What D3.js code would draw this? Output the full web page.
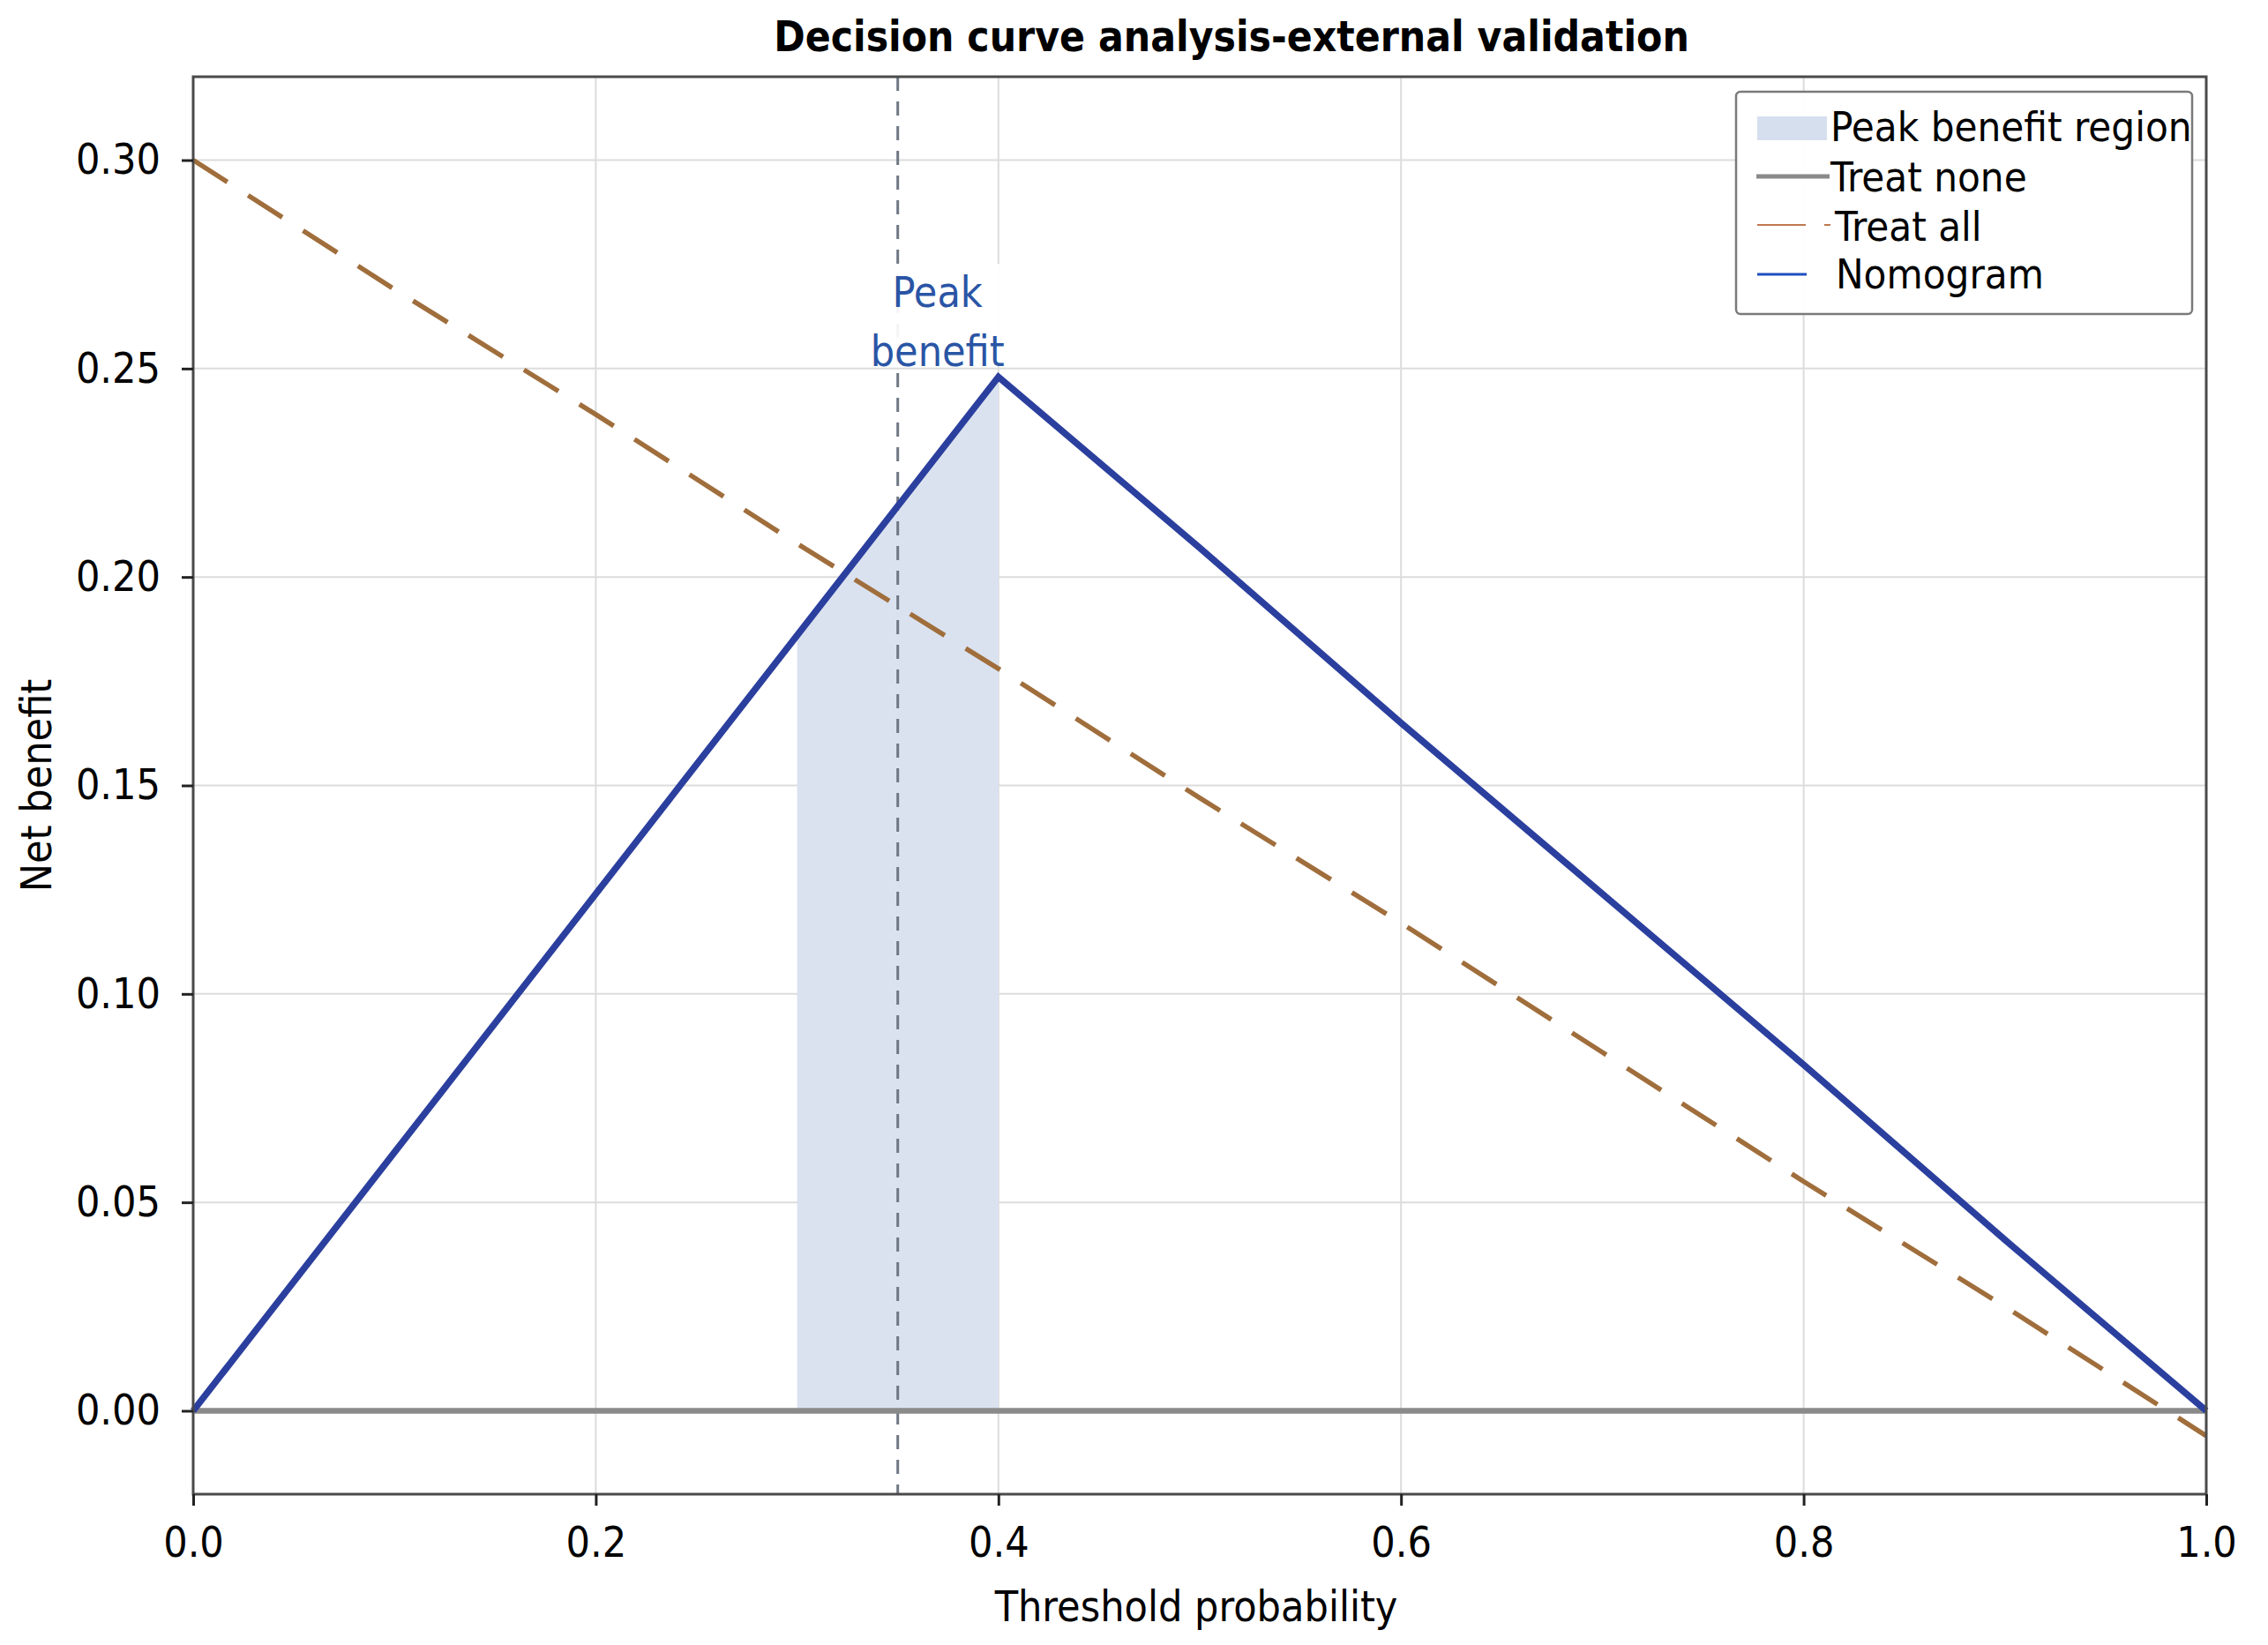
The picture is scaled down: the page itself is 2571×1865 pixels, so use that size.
<!DOCTYPE html>
<html>
<head>
<meta charset="utf-8">
<script src="https://cdn.jsdelivr.net/npm/d3@7/dist/d3.min.js"></script>
<style>
  html, body { margin: 0; padding: 0; background: #fff; }
  svg { display: block; }
  text { font-family: "DejaVu Sans Condensed", "DejaVu Sans", "Liberation Sans", sans-serif; font-stretch: condensed; }
</style>
</head>
<body>
<svg id="chart" width="2571" height="1865"></svg>
<script>
// ---- Data ----
const thresholds   = [0.0, 0.1, 0.2, 0.3, 0.4, 0.5, 0.6, 0.7, 0.8, 0.9, 1.0];
const nomogramNB   = [0.000, 0.062, 0.124, 0.186, 0.248, 0.207, 0.165, 0.124, 0.083, 0.041, 0.000];
const treatAllNB   = [0.300, 0.269, 0.239, 0.208, 0.178, 0.147, 0.117, 0.086, 0.055, 0.025, -0.006];
const treatNoneNB  = [0, 0, 0, 0, 0, 0, 0, 0, 0, 0, 0];
const peakRegion   = [0.30, 0.40];
const peakThreshold = 0.35;
const xTickValues  = [0.0, 0.2, 0.4, 0.6, 0.8, 1.0];
const yTickValues  = [0.00, 0.05, 0.10, 0.15, 0.20, 0.25, 0.30];
const legendLabels = ["Peak benefit region", "Treat none", "Treat all", "Nomogram"];
const titleText = "Decision curve analysis-external validation";

// ---- Layout ----
const W = 2571, H = 1865;
const margin = { top: 87, right: 70, bottom: 171, left: 219 };
const svg = d3.select("#chart");

const x = d3.scaleLinear().domain([0, 1]).range([margin.left, W - margin.right]);
const y = d3.scaleLinear().domain([-0.02, 0.32]).range([H - margin.bottom, margin.top]);

const pts = (arr) => thresholds.map((t, i) => [t, arr[i]]);

// gridlines
const grid = svg.append("g").attr("stroke", "#dcdcdc").attr("stroke-width", 2);
grid.selectAll("line.gx").data(xTickValues.filter(v => v > 0 && v < 1)).join("line")
  .attr("x1", d => x(d)).attr("x2", d => x(d))
  .attr("y1", y.range()[1]).attr("y2", y.range()[0]);
grid.selectAll("line.gy").data(yTickValues).join("line")
  .attr("y1", d => y(d)).attr("y2", d => y(d))
  .attr("x1", x.range()[0]).attr("x2", x.range()[1]);

// peak benefit region fill
const regionPts = pts(nomogramNB).filter(p => p[0] >= peakRegion[0] - 1e-9 && p[0] <= peakRegion[1] + 1e-9);
svg.append("path")
  .datum(regionPts)
  .attr("fill", "#dae2f0")
  .attr("d", d3.area().x(d => x(d[0])).y0(y(0)).y1(d => y(d[1])));

// vertical dashed line at peak threshold
svg.append("line")
  .attr("x1", x(peakThreshold)).attr("x2", x(peakThreshold))
  .attr("y1", y.range()[1]).attr("y2", y.range()[0])
  .attr("stroke", "#6f7784").attr("stroke-width", 3)
  .attr("stroke-dasharray", "16,12");

const line = d3.line().x(d => x(d[0])).y(d => y(d[1]));

// treat none
svg.append("path").datum(pts(treatNoneNB))
  .attr("fill", "none").attr("stroke", "#8a8a8a").attr("stroke-width", 6.5)
  .attr("d", line);

// treat all
svg.append("path").datum(pts(treatAllNB))
  .attr("fill", "none").attr("stroke", "#a06e3c").attr("stroke-width", 5.5)
  .attr("stroke-dasharray", "46,28")
  .attr("d", line);

// nomogram
svg.append("path").datum(pts(nomogramNB))
  .attr("fill", "none").attr("stroke", "#2b3f9e").attr("stroke-width", 7.5)
  .attr("stroke-linejoin", "miter")
  .attr("d", line);

// annotation
const peakIdx = nomogramNB.indexOf(d3.max(nomogramNB));
const annX = x(peakThreshold) + 45;
svg.append("rect")
  .attr("x", annX - 78).attr("y", y(nomogramNB[peakIdx]) - 128)
  .attr("width", 156).attr("height", 116)
  .attr("fill", "#fff").attr("opacity", 0.92);
const ann = svg.append("text")
  .attr("text-anchor", "middle").attr("fill", "#2a55a5")
  .style("font-size", "48px");
ann.append("tspan").attr("x", annX).attr("y", y(nomogramNB[peakIdx]) - 79).text("Peak");
ann.append("tspan").attr("x", annX).attr("y", y(nomogramNB[peakIdx]) - 12).text("benefit");

// frame
svg.append("rect")
  .attr("x", x.range()[0]).attr("y", y.range()[1])
  .attr("width", x.range()[1] - x.range()[0])
  .attr("height", y.range()[0] - y.range()[1])
  .attr("fill", "none").attr("stroke", "#4a4a4a").attr("stroke-width", 3);

// axes
const xAxis = svg.append("g")
  .attr("transform", `translate(0,${y.range()[0]})`)
  .call(d3.axisBottom(x).tickValues(xTickValues).tickFormat(d3.format(".1f")).tickSize(13).tickPadding(24));
const yAxis = svg.append("g")
  .attr("transform", `translate(${x.range()[0]},0)`)
  .call(d3.axisLeft(y).tickValues(yTickValues).tickFormat(d3.format(".2f")).tickSize(13).tickPadding(24));
[xAxis, yAxis].forEach(a => {
  a.select(".domain").remove();
  a.selectAll(".tick line").attr("stroke", "#222").attr("stroke-width", 3);
  a.selectAll(".tick text").attr("fill", "#000").style("font-size", "48px");
});

// title & axis labels
svg.append("text")
  .attr("x", 1396).attr("y", 58).attr("text-anchor", "middle")
  .style("font-size", "47.5px").style("font-weight", "bold").attr("fill", "#000")
  .text(titleText);
svg.append("text")
  .attr("x", (x.range()[0] + x.range()[1]) / 2 - 4).attr("y", 1838).attr("text-anchor", "middle")
  .style("font-size", "48px").attr("fill", "#000")
  .text("Threshold probability");
svg.append("text")
  .attr("transform", `translate(58,${(y.range()[0] + y.range()[1]) / 2}) rotate(-90)`)
  .attr("text-anchor", "middle")
  .style("font-size", "48px").attr("fill", "#000")
  .text("Net benefit");

// legend
const lg = svg.append("g");
lg.append("rect").attr("x", 1968).attr("y", 104).attr("width", 517).attr("height", 252)
  .attr("rx", 5).attr("fill", "#fff").attr("fill-opacity", 0.95)
  .attr("stroke", "#7a7a7a").attr("stroke-width", 2.5);
lg.append("rect").attr("x", 1992).attr("y", 132).attr("width", 79).attr("height", 27).attr("fill", "#d5dfee");
lg.append("line").attr("x1", 1991).attr("x2", 2074).attr("y1", 200).attr("y2", 200)
  .attr("stroke", "#8a8a8a").attr("stroke-width", 5);
lg.append("line").attr("x1", 1992).attr("x2", 2075).attr("y1", 255).attr("y2", 255)
  .attr("stroke", "#c07850").attr("stroke-width", 2).attr("stroke-dasharray", "55,21");
lg.append("line").attr("x1", 1992).attr("x2", 2048).attr("y1", 311).attr("y2", 311)
  .attr("stroke", "#1f4fbf").attr("stroke-width", 3);
const legX = [2075, 2075, 2080, 2081];
const legY = [160, 217, 273, 327];
lg.selectAll("text.lab").data(legendLabels).join("text")
  .attr("x", (d, i) => legX[i]).attr("y", (d, i) => legY[i])
  .style("font-size", "47px").attr("fill", "#000")
  .text(d => d);
</script>
</body>
</html>
